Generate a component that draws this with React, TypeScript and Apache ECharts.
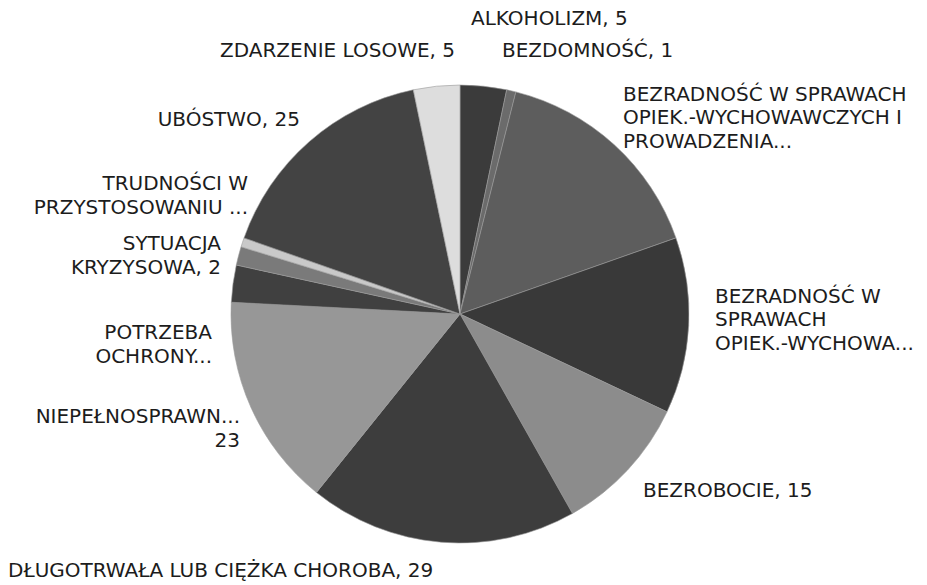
import React, { useEffect, useRef } from "react";
import * as echarts from "echarts";

const categories = [
  "ALKOHOLIZM",
  "BEZDOMNOŚĆ",
  "BEZRADNOŚĆ W SPRAWACH OPIEK.-WYCHOWAWCZYCH I PROWADZENIA GOSPODARSTWA DOMOWEGO",
  "BEZRADNOŚĆ W SPRAWACH OPIEK.-WYCHOWAWCZYCH",
  "BEZROBOCIE",
  "DŁUGOTRWAŁA LUB CIĘŻKA CHOROBA",
  "NIEPEŁNOSPRAWNOŚĆ",
  "POTRZEBA OCHRONY MACIERZYŃSTWA",
  "SYTUACJA KRYZYSOWA",
  "TRUDNOŚCI W PRZYSTOSOWANIU DO ŻYCIA",
  "UBÓSTWO",
  "ZDARZENIE LOSOWE",
];

const values = [5, 1, 24, 19, 15, 29, 23, 4, 2, 1, 25, 5];

const labelTexts = [
  "ALKOHOLIZM, 5",
  "BEZDOMNOŚĆ, 1",
  "BEZRADNOŚĆ W SPRAWACH\nOPIEK.-WYCHOWAWCZYCH I\nPROWADZENIA...",
  "BEZRADNOŚĆ W\nSPRAWACH\nOPIEK.-WYCHOWA...",
  "BEZROBOCIE, 15",
  "DŁUGOTRWAŁA LUB CIĘŻKA CHOROBA, 29",
  "NIEPEŁNOSPRAWN...\n23",
  "POTRZEBA\nOCHRONY...",
  "SYTUACJA\nKRYZYSOWA, 2",
  "TRUDNOŚCI W\nPRZYSTOSOWANIU ...",
  "UBÓSTWO, 25",
  "ZDARZENIE LOSOWE, 5",
];

const sliceColors = [
  "#3b3b3b",
  "#6b6b6b",
  "#5d5d5d",
  "#393939",
  "#8c8c8c",
  "#3d3d3d",
  "#979797",
  "#404040",
  "#7a7a7a",
  "#c9c9c9",
  "#434343",
  "#dddddd",
];

// label anchor positions (x, y, align)
const labelAnchors: [number, number, "left" | "right"][] = [
  [471, 18, "left"],
  [502, 50, "left"],
  [623, 117, "left"],
  [715, 319, "left"],
  [643, 490, "left"],
  [8, 570, "left"],
  [240, 428, "right"],
  [212, 344, "right"],
  [221, 255, "right"],
  [248, 195, "right"],
  [300, 119, "right"],
  [455, 50, "right"],
];

export default function App() {
  const ref = useRef<HTMLDivElement>(null);
  useEffect(() => {
    if (!ref.current) return;
    const chart = echarts.init(ref.current, undefined, { renderer: "svg" });
    chart.setOption({
      animation: false,
      backgroundColor: "#ffffff",
      series: [
        {
          type: "pie",
          center: [460, 314],
          radius: 229,
          startAngle: 90,
          clockwise: true,
          avoidLabelOverlap: false,
          data: categories.map((c, i) => ({
            name: c,
            value: values[i],
            itemStyle: { color: sliceColors[i] },
          })),
          itemStyle: { borderColor: "#9a9a9a", borderWidth: 0.6 },
          label: {
            show: true,
            position: "outside",
            formatter: (p: any) => labelTexts[p.dataIndex],
            fontFamily: "DejaVu Sans",
            fontSize: 20,
            lineHeight: 23.5,
            color: "#1c1c1c",
          },
          labelLine: { show: false },
          labelLayout: (params: any) => {
            const a = labelAnchors[params.dataIndex];
            return {
              x: a[0],
              y: a[1],
              align: a[2],
              verticalAlign: "middle",
            };
          },
          emphasis: { disabled: true },
        },
      ],
    });
    return () => chart.dispose();
  }, []);
  return (
    <div
      ref={ref}
      style={{ position: "fixed", left: 0, top: 0, width: 927, height: 585 }}
    />
  );
}
